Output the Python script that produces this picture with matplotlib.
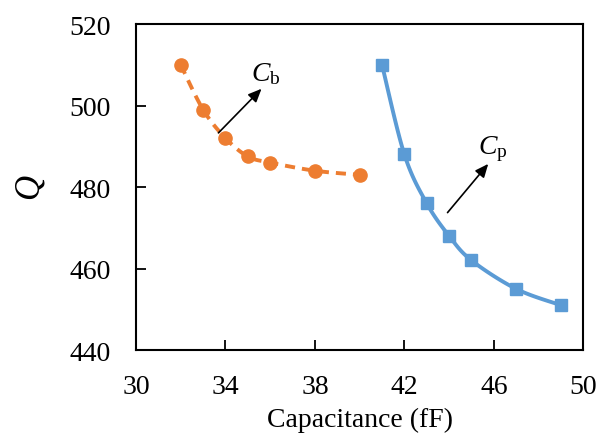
import numpy as np
import matplotlib
matplotlib.use('Agg')
import matplotlib.pyplot as plt

plt.rcParams['font.family'] = 'Liberation Serif'
plt.rcParams['mathtext.fontset'] = 'custom'
plt.rcParams['mathtext.rm'] = 'Liberation Serif'
plt.rcParams['mathtext.it'] = 'Liberation Serif:italic'

# data
cb_x = [32, 33, 34, 35, 36, 38, 40]
cb_q = [510, 499, 492, 487.5, 486, 484, 483]
cp_x = [41, 42, 43, 44, 45, 47, 49]
cp_q = [510, 488, 476, 468, 462, 455, 451]

x_ticks = [30, 34, 38, 42, 46, 50]
y_ticks = [440, 460, 480, 500, 520]

orange = '#ED7D31'
blue = '#5B9BD5'


def smooth(xs, ys, n=20):
    # catmull-rom curve through the points, like excel smoothed line
    p = np.column_stack([xs, ys]).astype(float)
    p = np.vstack([p[0], p, p[-1]])
    out = []
    t = np.linspace(0, 1, n)[:, None]
    for i in range(1, len(p) - 2):
        p0, p1, p2, p3 = p[i - 1], p[i], p[i + 1], p[i + 2]
        seg = 0.5 * ((2 * p1) + (-p0 + p2) * t + (2 * p0 - 5 * p1 + 4 * p2 - p3) * t ** 2
                     + (-p0 + 3 * p1 - 3 * p2 + p3) * t ** 3)
        out.append(seg)
    out = np.vstack(out)
    return out[:, 0], out[:, 1]


fig = plt.figure(figsize=(5.98, 4.35), dpi=100)
ax = fig.add_axes([0.2274, 0.193, 0.748, 0.7495])

sx, sy = smooth(cb_x, cb_q)
ax.plot(sx, sy, color=orange, lw=2.8, ls=(0, (2.6, 1.8)))
ax.plot(cb_x, cb_q, 'o', color=orange, ms=9.5)

sx, sy = smooth(cp_x, cp_q)
ax.plot(sx, sy, color=blue, lw=2.8)
ax.plot(cp_x, cp_q, 's', color=blue, ms=9)

ax.annotate('', xy=(35.7, 504.6), xytext=(33.6, 492.8),
            arrowprops=dict(arrowstyle='-|>,head_length=0.8,head_width=0.35', color='black', lw=1.2))
ax.text(35.15, 504.8, r'$C_{\mathrm{b}}$', fontsize=20, ha='left', va='bottom')
ax.annotate('', xy=(45.83, 486.2), xytext=(43.85, 473.2),
            arrowprops=dict(arrowstyle='-|>,head_length=0.8,head_width=0.35', color='black', lw=1.2))
ax.text(45.3, 485.8, r'$C_{\mathrm{p}}$', fontsize=20, ha='left', va='bottom')

ax.set_xlim(30, 50)
ax.set_ylim(440, 520)
ax.set_xticks(x_ticks)
ax.set_yticks(y_ticks)
ax.tick_params(direction='in', length=7, width=1.3, labelsize=20)
ax.tick_params(axis='x', pad=17)
ax.tick_params(axis='y', pad=18)
for s in ax.spines.values():
    s.set_linewidth(1.5)
ax.set_xlabel('Capacitance (fF)', fontsize=20, labelpad=6)
ax.set_ylabel(r'$Q$', fontsize=25, labelpad=16)

plt.savefig('out.png', dpi=100)
